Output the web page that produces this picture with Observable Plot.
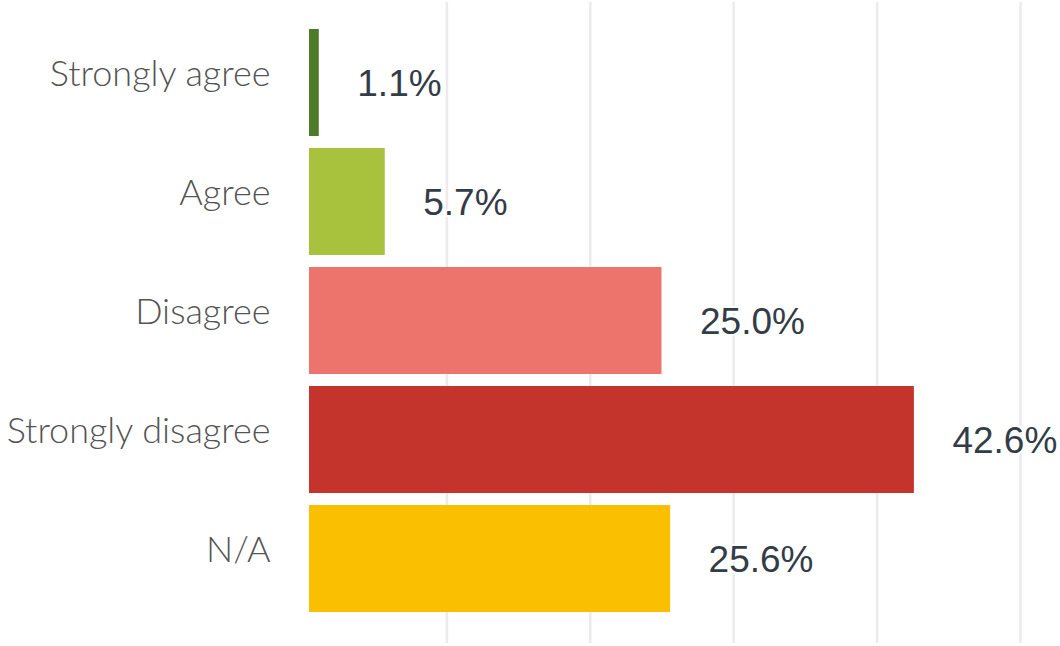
<!DOCTYPE html>
<html>
<head>
<meta charset="utf-8">
<script src="https://cdn.jsdelivr.net/npm/d3@7"></script>
<script src="https://cdn.jsdelivr.net/npm/@observablehq/plot@0.6"></script>
<style>
  html, body { margin: 0; padding: 0; background: #ffffff; }
  #chart { width: 1060px; height: 646px; overflow: hidden; }
</style>
</head>
<body>
<div id="chart"></div>
<script>
const categories = ["Strongly agree", "Agree", "Disagree", "Strongly disagree", "N/A"];
const values = [1.1, 5.7, 25.0, 42.6, 25.6];
const colors = ["#4e7b2a", "#a8c23e", "#ed746c", "#c4332c", "#f9bf00"];
const gridTicks = [10, 20, 30, 40, 50];

const data = categories.map((c, i) => ({category: c, value: values[i]}));

const chart = Plot.plot({
  width: 1060,
  height: 646,
  marginLeft: 303,
  marginRight: 40,
  marginTop: 2,
  marginBottom: 3,
  style: {background: "#ffffff", overflow: "visible"},
  x: {domain: [0, 50], axis: null},
  y: {domain: categories, paddingInner: 0.1, paddingOuter: 0.225, align: 0.46, label: null, axis: null},
  color: {domain: categories, range: colors},
  marks: [
    Plot.ruleX(gridTicks, {stroke: "#ebebeb", strokeWidth: 2.5}),
    Plot.barX(data, {y: "category", x: "value", fill: "category", insetLeft: 6}),
    Plot.text(data, {
      y: "category", x: "value",
      text: d => d.value.toFixed(1) + "%",
      textAnchor: "start", dx: 38, dy: 1,
      fontSize: 37, fontFamily: "'Liberation Sans', Arial, sans-serif",
      fill: "#333d47", stroke: "white", strokeWidth: 4
    }),
    Plot.axisY({
      tickSize: 0, tickPadding: 33, dy: -9,
      fontSize: 36, fontFamily: "Lato, sans-serif", fontWeight: 300,
      fill: "#555555", label: null
    })
  ]
});
document.getElementById("chart").appendChild(chart);
</script>
</body>
</html>
